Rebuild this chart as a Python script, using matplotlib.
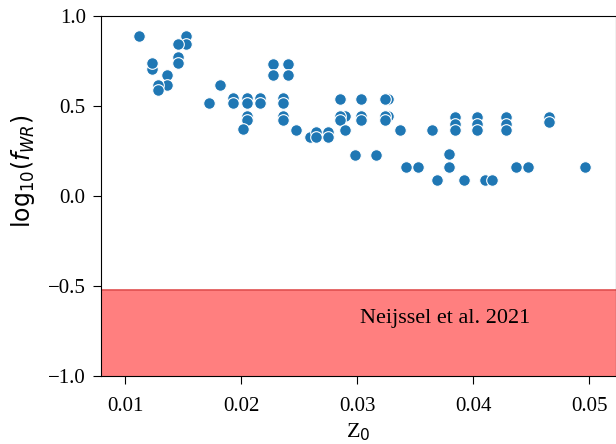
import matplotlib
matplotlib.use("Agg")
import matplotlib.pyplot as plt
import numpy as np

# metallicity Z0 and log10 of the WR factor for each model
z0 = [
    0.0112, 0.0152, 0.0152, 0.0145, 0.0145, 0.0145, 0.0123, 0.0123,
    0.0136, 0.0136, 0.0128, 0.0128, 0.0182, 0.0172,
    0.0193, 0.0193, 0.0205, 0.0205, 0.0205, 0.0205, 0.0201,
    0.0216, 0.0216, 0.0227, 0.0227, 0.0240, 0.0240,
    0.0236, 0.0236, 0.0236, 0.0236, 0.0247,
    0.0259, 0.0264, 0.0264, 0.0275, 0.0275,
    0.0285, 0.0289, 0.0285, 0.0285, 0.0289, 0.0298,
    0.0303, 0.0303, 0.0303, 0.0316,
    0.0326, 0.0324, 0.0326, 0.0324, 0.0324, 0.0337,
    0.0342, 0.0352, 0.0364, 0.0369, 0.0379, 0.0379,
    0.0384, 0.0384, 0.0384, 0.0392,
    0.0403, 0.0403, 0.0403, 0.0410, 0.0416,
    0.0428, 0.0428, 0.0428, 0.0437, 0.0447,
    0.0465, 0.0465, 0.0496,
]
log_fwr = [
    0.889, 0.890, 0.848, 0.848, 0.777, 0.740, 0.705, 0.740,
    0.672, 0.617, 0.618, 0.590, 0.617, 0.518,
    0.544, 0.518, 0.544, 0.518, 0.444, 0.422, 0.372,
    0.544, 0.518, 0.737, 0.672, 0.737, 0.672,
    0.544, 0.518, 0.444, 0.422, 0.370,
    0.330, 0.355, 0.330, 0.355, 0.330,
    0.539, 0.445, 0.445, 0.422, 0.370, 0.232,
    0.539, 0.445, 0.422, 0.232,
    0.539, 0.539, 0.445, 0.445, 0.422, 0.367,
    0.163, 0.163, 0.367, 0.089, 0.233, 0.163,
    0.440, 0.400, 0.367, 0.089,
    0.440, 0.400, 0.367, 0.089, 0.089,
    0.440, 0.400, 0.367, 0.163, 0.163,
    0.440, 0.413, 0.163,
]

# observational constraint band
band_low, band_high = -1.0, -0.52

plt.rcParams["font.family"] = ["Liberation Serif", "DejaVu Serif"]
plt.rcParams["mathtext.fontset"] = "dejavusans"

fig = plt.figure(figsize=(6.16, 4.44), dpi=100)
ax = fig.add_axes([0.164, 0.153, 0.836, 0.810])

ax.axhspan(band_low, band_high, color="red", alpha=0.5, lw=0)
ax.axhline(band_high, color="#e05050", lw=1.2)
ax.scatter(z0, log_fwr, s=70, color="#1f77b4", edgecolor="white",
           linewidth=0.8, zorder=3)
ax.text(0.0376, -0.68, "Neijssel et al. 2021", ha="center", va="center",
        fontsize=16)

ax.set_xlim(0.0079, 0.0523)
ax.set_ylim(-1.0, 1.0)
ax.set_xticks([0.01, 0.02, 0.03, 0.04, 0.05])
ax.set_yticks([-1.0, -0.5, 0.0, 0.5, 1.0])
ax.tick_params(labelsize=15, length=6)
ax.tick_params(axis="x", pad=9)
ax.tick_params(axis="y", pad=5)

ax.set_xlabel("Z$_0$", fontsize=16)
ax.set_ylabel(r"$\mathrm{log}_{10}(f_{WR})$", fontsize=17)
ax.yaxis.set_label_coords(-0.125, 0.57)

fig.savefig("out.png", dpi=100)
